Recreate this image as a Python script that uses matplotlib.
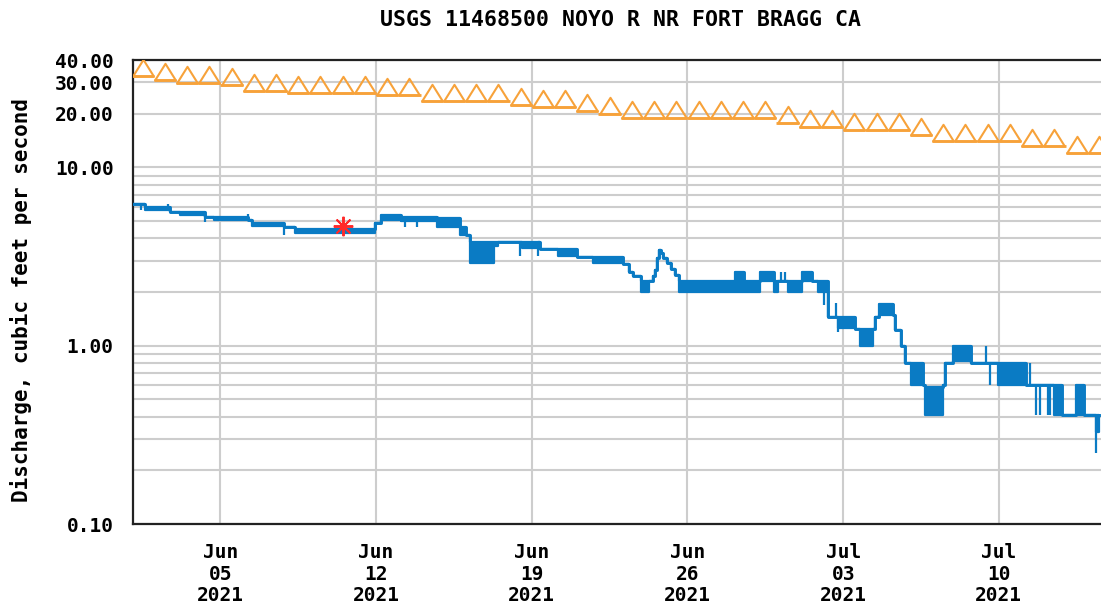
import numpy as np
import matplotlib
matplotlib.use("Agg")
import matplotlib.pyplot as plt
import matplotlib.dates as mdates
from matplotlib.path import Path

# all times are days counted from 2021-06-01 00:00
start = np.datetime64("2021-06-01T00:00")

# daily median discharge (orange triangles), Jun 1 .. Jul 14
median_flow = [32.6, 30.9, 29.9, 29.9, 29.1, 26.9, 26.9, 26.2, 26.2, 26.2,
               26.2, 25.6, 25.6, 23.7, 23.7, 23.7, 23.7, 22.4, 21.8, 21.8,
               20.7, 19.8, 18.9, 18.9, 18.9, 18.9, 18.9, 18.9, 18.9, 17.8,
               16.9, 16.9, 16.1, 16.1, 16.1, 15.1, 14.0, 14.0, 14.0, 14.0,
               13.1, 13.1, 12.0, 12.0]

# 15-minute discharge, read as pieces: edges in days, low / high level per piece
# (low == high is a flat stretch, otherwise the gauge flickers between them)
seg_edges = [0.00, 0.63, 1.75, 2.20, 3.33, 3.69, 5.22, 5.44, 6.84, 7.37,
             10.97, 11.20, 12.10, 13.76, 14.79, 15.02, 15.24, 16.28, 16.50, 17.58,
             18.26, 18.39, 19.20, 20.05, 20.77, 22.12, 22.35, 22.57, 22.89, 23.25,
             23.47, 23.56, 23.65, 23.74, 23.83, 23.92, 24.10, 24.28, 24.46, 24.60,
             27.16, 27.52, 28.28, 28.87, 29.09, 29.50, 30.17, 30.62, 30.89, 31.30,
             31.79, 32.55, 32.78, 33.36, 33.45, 33.59, 34.22, 34.35, 34.58, 34.80,
             35.03, 35.57, 35.70, 36.51, 36.60, 36.96, 37.73, 38.98, 40.20, 41.46,
             41.86, 42.45, 42.81, 43.35, 43.52]
seg_low = [6.2, 5.8, 5.6, 5.4, 5.3, 5.1, 5.1, 4.7, 4.6, 4.3,
           4.9, 5.1, 5.0, 4.6, 4.2, 4.2, 2.9, 3.6, 3.8, 3.55,
           3.8, 3.5, 3.2, 3.15, 2.9, 2.88, 2.6, 2.45, 2.0, 2.3,
           2.45, 2.65, 3.1, 3.45, 3.3, 3.1, 2.9, 2.7, 2.5, 2.0,
           2.0, 2.0, 2.3, 2.0, 2.3, 2.0, 2.3, 2.3, 2.0, 1.45,
           1.25, 1.24, 1.0, 1.24, 1.45, 1.48, 1.48, 1.23, 1.0, 0.8,
           0.6, 0.6, 0.41, 0.6, 0.8, 0.82, 0.8, 0.6, 0.6, 0.41,
           0.41, 0.41, 0.41, 0.33]
seg_high = [6.2, 6.0, 5.6, 5.6, 5.3, 5.3, 5.1, 4.9, 4.6, 4.5,
            4.9, 5.4, 5.3, 5.2, 4.6, 4.2, 3.8, 3.8, 3.8, 3.8,
            3.8, 3.5, 3.5, 3.15, 3.15, 2.88, 2.6, 2.45, 2.3, 2.3,
            2.45, 2.65, 3.1, 3.45, 3.3, 3.1, 2.9, 2.7, 2.5, 2.3,
            2.6, 2.3, 2.6, 2.3, 2.3, 2.3, 2.6, 2.3, 2.3, 1.45,
            1.45, 1.24, 1.24, 1.24, 1.45, 1.72, 1.48, 1.23, 1.0, 0.8,
            0.8, 0.6, 0.59, 0.6, 0.8, 1.0, 0.8, 0.8, 0.6, 0.6,
            0.41, 0.6, 0.41, 0.41]

# short single-reading spikes
spike_day = [0.41, 1.66, 3.33, 5.26, 6.84, 12.32, 12.86, 17.49, 18.30, 29.20,
             29.40, 31.12, 31.66, 31.79, 38.44, 38.62, 39.07, 40.38, 40.69, 40.83,
             41.19, 41.32, 42.76, 43.35]
spike_low = [5.8, 6.0, 4.95, 5.1, 4.2, 4.6, 4.6, 3.2, 3.2, 2.3,
             2.3, 1.7, 1.45, 1.2, 0.8, 0.6, 0.6, 0.6, 0.41, 0.41,
             0.41, 0.41, 0.41, 0.25]
spike_high = [6.2, 6.2, 5.4, 5.45, 4.6, 5.0, 5.0, 3.8, 3.8, 2.6,
              2.6, 2.3, 1.74, 1.45, 1.0, 0.8, 0.8, 0.8, 0.6, 0.6,
              0.6, 0.6, 0.6, 0.41]

# field measurement (red asterisk)
measured_day = [9.53]
measured_flow = [4.7]

tick_dates = ["2021-06-05", "2021-06-12", "2021-06-19", "2021-06-26", "2021-07-03", "2021-07-10"]
y_major = [0.1, 1, 10, 20, 30, 40]
y_minor = [0.2, 0.3, 0.4, 0.5, 0.6, 0.7, 0.8, 0.9, 2, 3, 4, 5, 6, 7, 8, 9]


def to_time(days):
    mins = np.round(np.asarray(days, dtype=float) * 1440).astype("timedelta64[m]")
    return start + mins


BLUE = "#0a7bc4"
ORANGE = "#f7a23a"
GRID = "#cdcdcd"
FONT = "DejaVu Sans Mono"

fig = plt.figure(figsize=(11.01, 6.13), dpi=100)
ax = fig.add_axes([133 / 1101, 89 / 613, 978.6 / 1101, 464 / 613])
ax.set_yscale("log")

# median: one flat bar per day with a hollow triangle sitting on it at noon
n = len(median_flow)
day0 = to_time(np.arange(n))
day1 = to_time(np.arange(n) + 1)
ax.hlines(median_flow, day0, day1, color=ORANGE, lw=2.0, zorder=3)
tri = Path([(-0.5, 0), (0, 0.8), (0.5, 0), (-0.5, 0)], closed=True)
ax.plot(to_time(np.arange(n) + 0.5), median_flow, ls="none", marker=tri,
        ms=24, mfc="none", mec=ORANGE, mew=1.5, zorder=3)

# discharge
t = to_time(seg_edges)
lo = seg_low + [seg_low[-1]]
hi = seg_high + [seg_high[-1]]
ax.fill_between(t, lo, hi, step="post", color=BLUE, lw=1.6, zorder=4)
ax.step(t, hi, where="post", color=BLUE, lw=2.1, zorder=4)
ax.vlines(to_time(spike_day), spike_low, spike_high, color=BLUE, lw=1.6, zorder=4)

ax.plot(to_time(measured_day), measured_flow, ls="none", marker=(8, 2, 0),
        ms=14, mec="#ff2a2a", mew=1.4, zorder=5)

ax.set_xlim(to_time([0.07, 44.07]))
ax.set_ylim(0.1, 40)

ax.set_xticks(np.array(tick_dates, dtype="datetime64[m]"))
ax.xaxis.set_major_formatter(mdates.DateFormatter("%b\n%d\n%Y"))
ax.set_yticks(y_major)
ax.set_yticks(y_minor, minor=True)
ax.set_yticklabels(["%.2f" % v for v in y_major])
ax.yaxis.set_minor_formatter(plt.NullFormatter())

ax.grid(True, which="both", axis="y", color=GRID, lw=1.5, zorder=0)
ax.grid(True, which="major", axis="x", color=GRID, lw=1.5, zorder=0)
ax.set_axisbelow(True)

ax.tick_params(which="both", length=0)
ax.tick_params(axis="y", pad=14, labelsize=14)
ax.tick_params(axis="x", pad=14, labelsize=14)
for lab in ax.get_xticklabels() + ax.get_yticklabels():
    lab.set_fontfamily(FONT)
    lab.set_fontweight("bold")
for lab in ax.get_xticklabels():
    lab.set_linespacing(1.15)

for side in ["left", "top", "bottom"]:
    ax.spines[side].set_linewidth(1.6)
    ax.spines[side].set_color("#222222")
ax.spines["right"].set_visible(False)

fig.text(620 / 1101, 1 - 20 / 613, "USGS 11468500 NOYO R NR FORT BRAGG CA",
         ha="center", va="center", fontsize=15.5, fontweight="bold", family=FONT)
fig.text(21 / 1101, 1 - 300 / 613, "Discharge, cubic feet per second",
         rotation=90, ha="center", va="center", fontsize=15, fontweight="bold", family=FONT)

fig.savefig("out.png", dpi=100)
